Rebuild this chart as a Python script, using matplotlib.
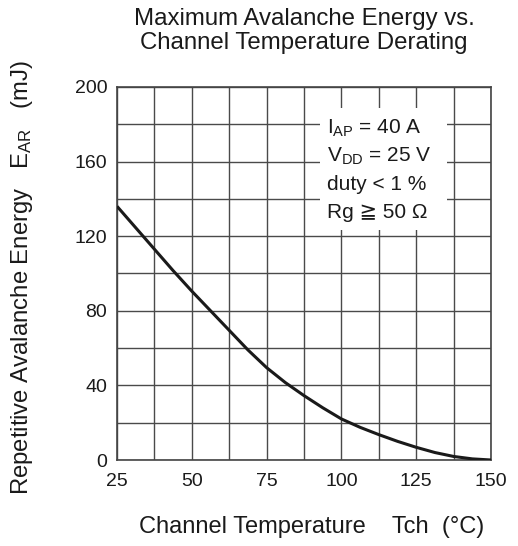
import numpy as np
import matplotlib
matplotlib.use("Agg")
import matplotlib.pyplot as plt
from matplotlib.patches import Rectangle

plt.rcParams['font.family'] = ['Liberation Sans', 'DejaVu Sans']
plt.rcParams['mathtext.fontset'] = 'custom'
plt.rcParams['mathtext.rm'] = 'Liberation Sans'
plt.rcParams['mathtext.it'] = 'Liberation Sans'

# channel temperature (degC) and avalanche energy (mJ)
tch = [25, 31.25, 37.5, 43.75, 50, 56.25, 62.5, 68.75, 75, 81.25, 87.5,
       93.75, 100, 106.25, 112.5, 118.75, 125, 131.25, 137.5, 143.75, 150]
e_ar = [136, 124.5, 113, 101.5, 90.5, 80, 69.5, 59, 49.5, 41.5, 34.5,
        28, 22, 17.5, 13.6, 10, 6.8, 4, 1.9, 0.6, 0]

x_ticks = [25, 50, 75, 100, 125, 150]
y_ticks = [0, 40, 80, 120, 160, 200]
conditions = ["$\\mathrm{I_{AP}}$ = 40 A", "$\\mathrm{V_{DD}}$ = 25 V",
              "duty < 1 %", "Rg ≧ 50 Ω"]

fig = plt.figure(figsize=(5.18, 5.46), dpi=100)
ax = fig.add_axes([0.226, 0.1575, 0.722, 0.6832])

ax.set_xlim(25, 150)
ax.set_ylim(0, 200)
ax.set_xticks(x_ticks)
ax.set_yticks(y_ticks)
ax.set_xticks(np.arange(25, 151, 12.5), minor=True)
ax.set_yticks(np.arange(0, 201, 20), minor=True)
ax.grid(which='both', color='#4a4a4a', lw=1.0)
ax.set_axisbelow(True)
ax.tick_params(which='both', length=0, labelsize=14, colors='#1a1a1a')
ax.tick_params(axis='x', pad=9)
ax.tick_params(axis='y', pad=7)
for s in ax.spines.values():
    s.set_color('#444444')
    s.set_linewidth(1.2)

# white box behind the test conditions
ax.add_patch(Rectangle((92.8, 123.5), 42.5, 65, facecolor='white',
                       edgecolor='none', zorder=1.5))
for i, txt in enumerate(conditions):
    ax.text(95.3, 178 - i * 15.1, txt, fontsize=15, color='#1a1a1a',
            va='center', ha='left', zorder=3)

ax.plot(tch, e_ar, color='#1a1a1a', lw=2.2, zorder=4, solid_capstyle='butt')

fig.text(0.587, 0.966, "Maximum Avalanche Energy vs.", fontsize=17.3,
         ha='center', va='center', color='#1a1a1a')
fig.text(0.587, 0.922, "Channel Temperature Derating", fontsize=17.3,
         ha='center', va='center', color='#1a1a1a')
fig.text(0.601, 0.035, "Channel Temperature    Tch  (°C)", fontsize=17,
         ha='center', va='center', color='#1a1a1a')
fig.text(0.043, 0.492, "Repetitive Avalanche Energy   $\\mathrm{E_{AR}}$   (mJ)",
         fontsize=17.2, rotation=90, ha='center', va='center', color='#1a1a1a')

fig.savefig("out.png", dpi=100)
